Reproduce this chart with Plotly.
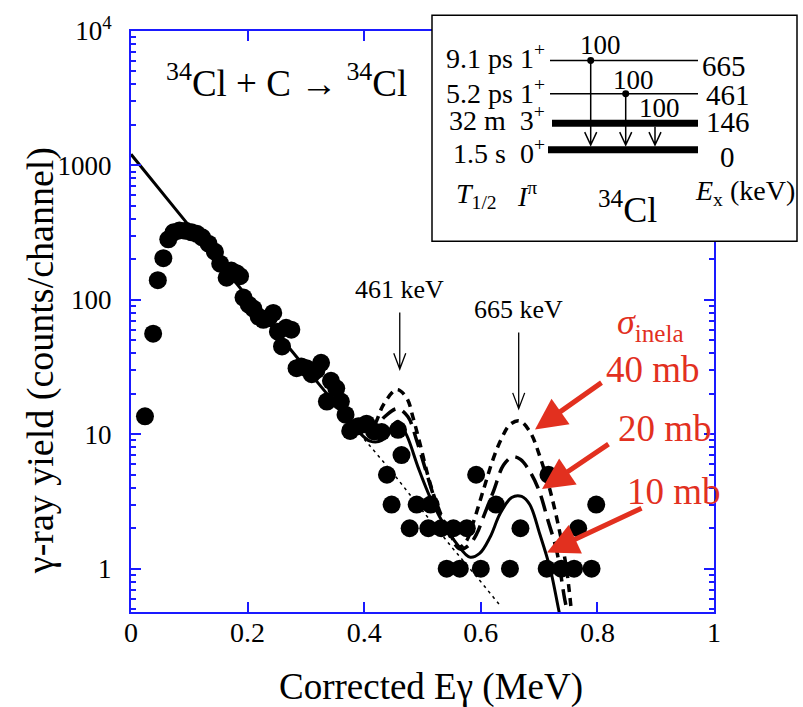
import plotly.graph_objects as go

# ---- measured gamma-ray spectrum (counts per channel) ----
e_meas = [0.024, 0.038, 0.046, 0.0555, 0.064, 0.073, 0.083, 0.094, 0.104, 0.113,
          0.122, 0.133, 0.144, 0.153, 0.164, 0.172, 0.181, 0.187, 0.193, 0.202,
          0.210, 0.219, 0.227, 0.236, 0.244, 0.252, 0.259, 0.266, 0.275, 0.284,
          0.292, 0.301, 0.310, 0.318, 0.326, 0.336, 0.343, 0.352, 0.360, 0.368,
          0.376, 0.390, 0.404, 0.417, 0.430, 0.439, 0.447, 0.458, 0.464, 0.478,
          0.490, 0.510, 0.514, 0.532, 0.5415, 0.553, 0.564, 0.576, 0.592, 0.600,
          0.626, 0.650, 0.668, 0.713, 0.716, 0.738, 0.760, 0.767, 0.790, 0.798]
counts = [13.6, 56, 140, 204, 282, 318, 328, 326, 318, 310,
          292, 262, 228, 186, 146, 165, 158, 150, 104, 92,
          86, 75, 71, 73, 80, 58, 45, 62, 60, 31,
          32, 31, 28, 30, 34, 17.5, 25, 22, 17.5, 14,
          10.6, 11.5, 12, 10.5, 10.4, 5, 3, 10.8, 7, 2,
          3, 2, 3, 2, 1, 2, 1, 2, 5, 1,
          3, 1, 2, 1, 5, 1, 1, 2, 1, 3]

# ---- simulated spectra for three inelastic cross sections ----
e_10mb = [0.0, 0.09, 0.2, 0.3, 0.38, 0.39, 0.41, 0.43, 0.445, 0.458, 0.473,
          0.493, 0.513, 0.536, 0.559, 0.581, 0.598, 0.616, 0.633, 0.653, 0.670,
          0.684, 0.701, 0.719, 0.733, 0.738]
y_10mb = [1210, 400, 105, 31, 11.8, 10.5, 8.9, 9.0, 11.0, 12.5, 9.8,
          5.6, 3.4, 2.16, 1.53, 1.22, 1.3, 1.72, 2.56, 3.39, 3.45,
          3.0, 1.82, 1.0, 0.51, 0.4]

e_20mb = [0.40, 0.416, 0.435, 0.457, 0.475, 0.490, 0.505, 0.520, 0.540, 0.565,
          0.580, 0.593, 0.604, 0.622, 0.639, 0.655, 0.668, 0.684, 0.700, 0.715,
          0.730, 0.744, 0.750]
y_20mb = [10.5, 10.8, 13.5, 15.5, 13.5, 9.0, 5.5, 3.4, 2.0, 1.4,
          1.5, 1.82, 2.4, 3.8, 5.9, 6.8, 6.5, 5.3, 3.8, 2.3,
          1.37, 0.59, 0.45]

e_40mb = [0.40, 0.416, 0.433, 0.456, 0.473, 0.484, 0.496, 0.510, 0.525, 0.545,
          0.563, 0.575, 0.587, 0.604, 0.622, 0.636, 0.650, 0.666, 0.684, 0.702,
          0.719, 0.736, 0.747, 0.755]
y_40mb = [10.5, 11.5, 16.6, 21.5, 18.6, 13.2, 8.4, 4.8, 3.0, 1.9,
          1.45, 1.6, 2.2, 3.8, 6.7, 9.4, 11.8, 12.6, 10.5, 6.7,
          3.8, 1.82, 1.0, 0.5]

# background continuation beyond the fitted region
e_bg = [0.40, 0.45, 0.50, 0.55, 0.60, 0.635]
y_bg = [9.2, 5.1, 2.7, 1.45, 0.8, 0.52]

x_ticks = [0, 0.2, 0.4, 0.6, 0.8, 1]
x_ticktext = ["0", "0.2", "0.4", "0.6", "0.8", "1"]
y_ticks = [1, 10, 100, 1000, 10000]
y_ticktext = ["1", "10", "100", "1000", "10<sup>4</sup>"]
y_minor = [m * 10 ** d for d in range(-1, 4) for m in range(2, 10)]

peak_labels = [461, 665]          # keV
sigma_labels = ["40 mb", "20 mb", "10 mb"]

# ---- page geometry (pixels) ----
W, H = 803, 707
ML, MR, MT, MB = 131, 89, 26, 95
PW = W - ML - MR
PH = H - MT - MB


def fx(px):
    return (px - ML) / PW


def fy(py):
    return (H - MB - py) / PH


FONT = "Liberation Serif"
BLUE = "#1a1aff"
RED = "#e2301f"

fig = go.Figure()

fig.add_trace(go.Scatter(x=e_meas, y=counts, mode="markers",
                         marker=dict(color="black", size=18, line=dict(width=0)),
                         showlegend=False))
fig.add_trace(go.Scatter(x=e_bg, y=y_bg, mode="lines",
                         line=dict(color="black", width=1.5, dash="3px,4px"),
                         showlegend=False))
fig.add_trace(go.Scatter(x=e_40mb, y=y_40mb, mode="lines", line_shape="spline",
                         line=dict(color="black", width=3.5, dash="8px,6px"),
                         showlegend=False))
fig.add_trace(go.Scatter(x=e_20mb, y=y_20mb, mode="lines", line_shape="spline",
                         line=dict(color="black", width=3.5, dash="16px,8px"),
                         showlegend=False))
fig.add_trace(go.Scatter(x=e_10mb, y=y_10mb, mode="lines", line_shape="spline",
                         line=dict(color="black", width=3),
                         showlegend=False))
# empty trace that brings up the right-hand y axis (its minor ticks)
fig.add_trace(go.Scatter(x=[], y=[], yaxis="y2", showlegend=False,
                         hoverinfo="skip"))

shapes = []
annotations = []


def label(text, px, py, size, color="black", xanchor="center", **kw):
    """Text placed at a pixel position of the page."""
    annotations.append(dict(text=text, x=fx(px), y=fy(py), xref="paper",
                            yref="paper", showarrow=False, xanchor=xanchor,
                            yanchor="middle",
                            font=dict(family=FONT, size=size, color=color), **kw))


# axis titles
label("Corrected Eγ (MeV)", 431, 688, 37)
label("γ-ray yield (counts/channel)", 40, 359, 38, textangle=-90)

# reaction label
label("<sup>34</sup>Cl + C → <sup>34</sup>Cl", 286, 76, 37)

# peak markers (461 keV, 665 keV)
dxh = 6 / PW
for e_kev, ytxt, ytop, ybot in [(peak_labels[0], 287, 310, 367),
                                 (peak_labels[1], 307, 330, 407)]:
    xe = e_kev / 1000
    annotations.append(dict(text=f"{e_kev} keV", x=xe, y=fy(ytxt), xref="x",
                            yref="paper", showarrow=False, xanchor="center",
                            yanchor="middle",
                            font=dict(family=FONT, size=26, color="black")))
    shapes.append(dict(type="path", xref="x", yref="paper",
                       path=(f"M {xe},{fy(ytop)} L {xe},{fy(ybot)} "
                             f"M {xe - dxh},{fy(ybot - 16)} L {xe},{fy(ybot)} "
                             f"L {xe + dxh},{fy(ybot - 16)}"),
                       line=dict(color="black", width=1.3)))

# cross-section labels with red arrows
label("<i>σ</i><sub>inela</sub>", 650, 322, 36, color=RED)
for lab, (tx, ty), (hx, hy), (sx, sy) in zip(
        sigma_labels,
        [(653, 367), (665, 427), (674, 490)],
        [(535, 428), (542, 488), (547, 552)],
        [(603, 380), (610, 442), (643, 507)]):
    label(lab, tx, ty, 37, color=RED)
    annotations.append(dict(text="", x=fx(hx), y=fy(hy), xref="paper",
                            yref="paper", showarrow=True, ax=sx - hx, ay=sy - hy,
                            arrowhead=2, arrowsize=1.25, arrowwidth=5,
                            arrowcolor=RED, standoff=0))

# ---- level scheme inset ----
shapes.append(dict(type="rect", xref="paper", yref="paper", layer="above",
                   x0=fx(432), x1=fx(797), y0=fy(238), y1=fy(10),
                   line=dict(color="black", width=1.5), fillcolor="white"))
levels = [  # y pixel, x start, x end, width
    (55.7, 550, 698, 1.5),
    (89.3, 550, 698, 1.5),
    (119, 552, 698, 7),
    (145.7, 548, 698, 7),
]
for ly, x0, x1, lw in levels:
    shapes.append(dict(type="line", xref="paper", yref="paper", layer="above",
                       x0=fx(x0), x1=fx(x1), y0=fy(ly), y1=fy(ly),
                       line=dict(color="black", width=lw)))
for gx, gy0 in [(590.7, 55.7), (625.7, 89.3), (655, 122.5)]:
    gy1 = 141
    shapes.append(dict(type="path", xref="paper", yref="paper", layer="above",
                       path=(f"M {fx(gx)},{fy(gy0)} L {fx(gx)},{fy(gy1)} "
                             f"M {fx(gx - 6)},{fy(gy1 - 13)} L {fx(gx)},{fy(gy1)} "
                             f"L {fx(gx + 6)},{fy(gy1 - 13)}"),
                       line=dict(color="black", width=1.5)))
for dx, dy in [(590.7, 55.7), (625.7, 89.3)]:
    shapes.append(dict(type="circle", xref="paper", yref="paper", layer="above",
                       x0=fx(dx - 3.5), x1=fx(dx + 3.5), y0=fy(dy + 3.5),
                       y1=fy(dy - 3.5), fillcolor="black",
                       line=dict(color="black", width=0)))

for txt, ty in [("9.1 ps 1<sup>+</sup>", 52), ("5.2 ps 1<sup>+</sup>", 87),
                ("32 m  3<sup>+</sup>", 114), ("1.5 s  0<sup>+</sup>", 148)]:
    label(txt, 547, ty, 28, xanchor="right")
for txt, tx, ty in [("665", 700, 61), ("461", 704, 91), ("146", 704, 118),
                    ("0", 718, 153)]:
    label(txt, tx, ty, 29, xanchor="left")
for tx, ty in [(600, 40), (633, 75), (659, 104)]:
    label("100", tx, ty, 27)
label("<i>T</i><sub>1/2</sub>", 476, 192, 28)
label("<i>I</i><sup>π</sup>", 527, 191, 28)
label("<sup>34</sup>Cl", 627, 204, 36)
label("<i>E</i><sub>x</sub> (keV)", 745, 189, 28)

y_common = dict(type="log", range=[-0.322, 4], showgrid=False, zeroline=False,
                ticks="inside", ticklen=10, tickwidth=2, tickcolor=BLUE,
                minor=dict(tickvals=y_minor, ticks="inside", ticklen=5,
                           tickwidth=2, tickcolor=BLUE, showgrid=False))

fig.update_layout(
    width=W, height=H,
    margin=dict(l=ML, r=MR, t=MT, b=MB, pad=0),
    paper_bgcolor="white", plot_bgcolor="white",
    shapes=shapes, annotations=annotations,
    showlegend=False,
    xaxis=dict(range=[0, 1], tickvals=x_ticks, ticktext=x_ticktext,
               ticks="inside", ticklen=10, tickwidth=2, tickcolor=BLUE,
               showline=True, linecolor=BLUE, linewidth=2, mirror="ticks",
               showgrid=False, zeroline=False, ticklabelstandoff=-6,
               tickfont=dict(family=FONT, size=28, color="black")),
    yaxis=dict(**y_common, tickvals=y_ticks, ticktext=y_ticktext,
               showline=True, linecolor=BLUE, linewidth=2, mirror="ticks",
               ticklabelstandoff=12,
               tickfont=dict(family=FONT, size=27, color="black")),
    yaxis2=dict(**y_common, tickvals=y_ticks, overlaying="y", side="right",
                showticklabels=False, showline=False),
)

fig.write_html("out.html")
